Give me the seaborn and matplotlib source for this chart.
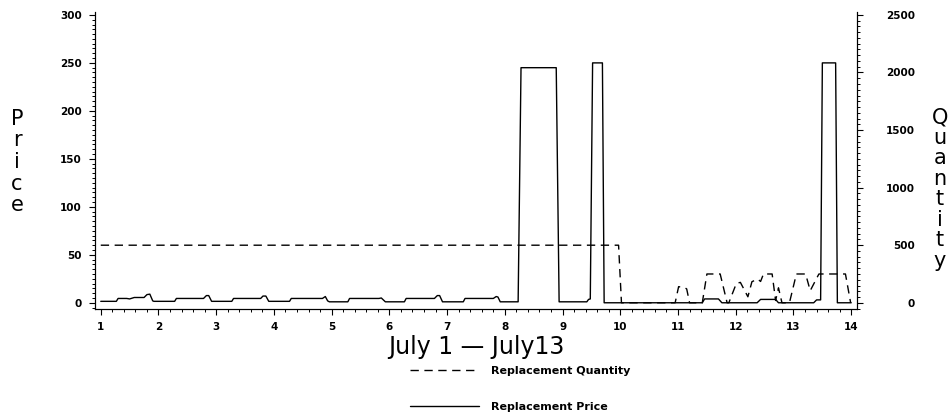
#!/usr/bin/env python

import matplotlib as mpl
mpl.use('agg')
import matplotlib.pyplot as plt
from matplotlib.ticker import MultipleLocator
import pandas as pd
import seaborn as sns

# Replacement price, breakpoints (day, price)
price_day = [1.00, 1.27, 1.30, 1.45, 1.50, 1.58, 1.75, 1.80, 1.85, 1.90, 1.92,
             2.28, 2.31, 2.78, 2.83, 2.87, 2.92,
             3.27, 3.30, 3.77, 3.81, 3.86, 3.91,
             4.27, 4.30, 4.84, 4.89, 4.93, 4.96,
             5.28, 5.31, 5.82, 5.86, 5.93, 5.96,
             6.26, 6.29, 6.78, 6.83, 6.87, 6.92,
             7.28, 7.31, 7.80, 7.85, 7.88, 7.92,
             8.23, 8.28, 8.89, 8.94,
             9.42, 9.45, 9.48, 9.52, 9.69, 9.72,
             11.42, 11.46, 11.70, 11.76,
             12.37, 12.43, 12.69, 12.74,
             13.35, 13.40, 13.47, 13.50, 13.73, 13.76, 14.00]
price_val = [1.5, 1.5, 4.5, 4.5, 4.0, 5.5, 5.5, 8.5, 9.0, 2.0, 1.5,
             1.5, 4.5, 4.5, 7.5, 7.5, 1.5,
             1.5, 4.5, 4.5, 7.0, 7.0, 1.5,
             1.5, 4.5, 4.5, 6.5, 2.0, 1.0,
             1.0, 4.5, 4.5, 5.0, 1.0, 1.0,
             1.0, 4.5, 4.5, 7.5, 7.5, 1.0,
             1.0, 4.5, 4.5, 6.5, 6.0, 1.0,
             1.0, 245, 245, 1.0,
             1.0, 3.5, 4.0, 250, 250, 0.0,
             0.0, 4.0, 4.0, 0.0,
             0.0, 3.5, 3.5, 0.0,
             0.0, 3.0, 3.0, 250, 250, 0.0, 0.0]

# Replacement quantity, breakpoints (day, quantity)
qty_day = [1.00, 9.97, 10.02, 10.95, 11.01, 11.12, 11.15, 11.20,
           11.42, 11.50, 11.73, 11.85, 11.88, 12.01, 12.08, 12.21, 12.28,
           12.38, 12.43, 12.48, 12.63, 12.69, 12.74, 12.80, 12.93,
           13.05, 13.21, 13.29, 13.44, 13.90, 13.99]
qty_val = [500, 500, 0, 0, 140, 130, 120, 0,
           0, 250, 250, 0, 0, 168, 177, 52, 183,
           206, 185, 250, 250, 20, 130, 0, 0,
           250, 250, 105, 250, 250, 0]

price = pd.DataFrame({"Day": price_day, "Price": price_val})
qty = pd.DataFrame({"Day": qty_day, "Quantity": qty_val})

sns.set_style("ticks")
plt.rcParams['font.family'] = ['DejaVu Sans']
plt.rcParams['text.color'] = 'black'
plt.rcParams['axes.labelcolor'] = 'black'

fig = plt.figure(figsize=(9.48, 4.15), dpi=100)
ax = fig.add_axes([0.1002, 0.2554, 0.8038, 0.7156])
ax2 = ax.twinx()

sns.lineplot(data=price, x="Day", y="Price", ax=ax, color="black", lw=1.0,
             sort=False, estimator=None)
sns.lineplot(data=qty, x="Day", y="Quantity", ax=ax2, color="black", lw=1.0,
             sort=False, estimator=None, dashes=False)
ax2.lines[0].set_dashes([6, 4])

ax.set_xlim(0.9, 14.1)
ax.set_ylim(-6.5, 303)
ax2.set_ylim(-6.5 * 2500 / 300, 303 * 2500 / 300)

ax.xaxis.set_major_locator(MultipleLocator(1))
ax.xaxis.set_minor_locator(MultipleLocator(0.2))
ax.yaxis.set_major_locator(MultipleLocator(50))
ax.yaxis.set_minor_locator(MultipleLocator(5))
ax2.yaxis.set_major_locator(MultipleLocator(500))
ax2.yaxis.set_minor_locator(MultipleLocator(50))

for a in (ax, ax2):
    a.tick_params(which="major", length=4.5, width=0.8, color="black",
                  labelsize=7.5, labelcolor="black", direction="out")
    a.tick_params(which="minor", length=2.2, width=0.7, color="black",
                  direction="out")
    a.spines["top"].set_visible(False)
    for s in ("left", "bottom", "right"):
        a.spines[s].set_linewidth(0.8)
        a.spines[s].set_color("black")
    for lab in a.get_xticklabels() + a.get_yticklabels():
        lab.set_fontweight("bold")

ax.tick_params(axis="y", pad=5)
ax.tick_params(axis="x", pad=5)
ax2.tick_params(axis="y", pad=37)
for lab in ax2.get_yticklabels():
    lab.set_horizontalalignment("right")

ax.set_ylabel("")
ax2.set_ylabel("")
ax.set_xlabel("July 1 \u2014 July13", fontsize=17, labelpad=2)

fig.text(17 / 948, 1 - 162 / 415, "\n".join("Price"), fontsize=15,
         ha="center", va="center", linespacing=1.1)
fig.text(940 / 948, 1 - 189 / 415, "\n".join("Quantity"), fontsize=15,
         ha="center", va="center", linespacing=1.03)

handles = [ax2.lines[0], ax.lines[0]]
fig.legend(handles, ["Replacement Quantity", "Replacement Price"],
           loc="upper left", bbox_to_anchor=(410 / 948, 1 - 366 / 415),
           frameon=False, borderpad=0, borderaxespad=0, handlelength=6.2,
           handletextpad=1.1, labelspacing=2.3,
           prop={"size": 8, "weight": "bold"})

plt.savefig("out.png", dpi=100)
plt.close()
